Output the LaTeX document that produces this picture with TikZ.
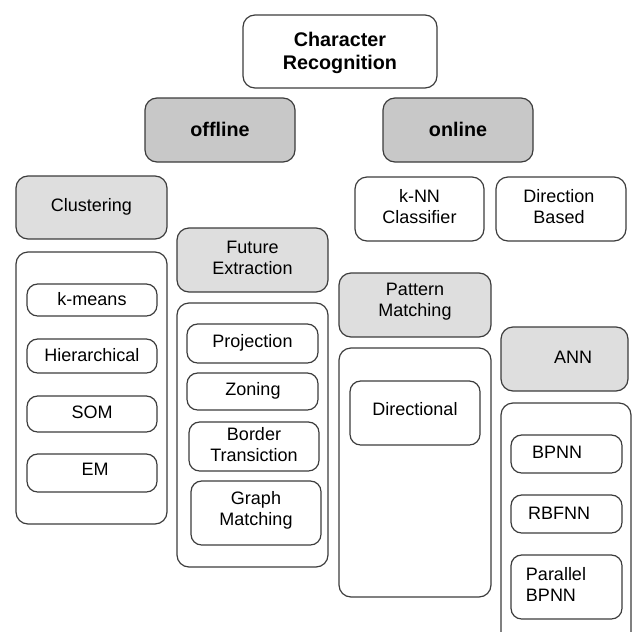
\documentclass[tikz,border=0pt]{standalone}
\usepackage{fontspec}
\setmainfont{Liberation Sans}
\usepackage{tikz}
\definecolor{darkgrey}{RGB}{200,200,200}
\definecolor{lightgrey}{RGB}{222,222,222}
\definecolor{edge}{RGB}{60,60,60}

\begin{document}
\begin{tikzpicture}[x=0.75pt,y=-0.75pt]
\tikzstyle{every node}+=[inner sep=0pt,align=center,font=\fontsize{13.5}{15.75}\selectfont]
\tikzstyle{frame}=[draw=edge,line width=0.9pt,rounded corners=9pt]
\tikzstyle{inner}=[draw=edge,line width=0.9pt,rounded corners=8pt]
\tikzstyle{head}=[font=\fontsize{14.8}{17.2}\selectfont\bfseries]
\clip (0,0) rectangle (632,632);
% top levels
\draw [frame] (243,15) rectangle (437,88);
\node [head] (charrec) at (340,53) {Character\\Recognition};
\draw [frame,fill=darkgrey] (145,98) rectangle (295,162);
\node [head] (offline) at (220,129) {offline};
\draw [frame,fill=darkgrey] (383,98) rectangle (533,162);
\node [head] (online) at (458,129) {online};
% offline side
\draw [frame,fill=lightgrey] (16,176) rectangle (167,239);
\node (clustering) at (91.5,206.5) {Clustering};
\draw [frame] (16,252) rectangle (167,524);
\draw [inner] (27,284) rectangle (157,316);
\node (kmeans) at (92,299) {k-means};
\draw [inner] (27,339) rectangle (157,373);
\node (hier) at (92,355) {Hierarchical};
\draw [inner] (27,396) rectangle (157,432);
\node (som) at (92,412) {SOM};
\draw [inner] (27,454) rectangle (157,492);
\node (em) at (95,469) {EM};
\draw [frame,fill=lightgrey] (177,228) rectangle (328,292);
\node (future) at (252.5,257.5) {Future\\Extraction};
\draw [frame] (177,303) rectangle (328,567);
\draw [inner] (187,324) rectangle (318,363);
\node (projection) at (252.5,343) {Projection};
\draw [inner] (187,373) rectangle (318,410);
\node (zoning) at (253,390.5) {Zoning};
\draw [inner] (189,422) rectangle (319,471);
\node (border) at (254,444.5) {Border\\Transiction};
\draw [inner] (191,481) rectangle (321,545);
\node (graph) at (256,510) {Graph\\Matching};
% online side
\draw [frame] (355,177) rectangle (484,241);
\node (knn) at (419.5,207) {k-NN\\Classifier};
\draw [frame] (496,177) rectangle (626,241);
\node (dirbased) at (559,207) {Direction\\Based};
\draw [frame,fill=lightgrey] (339,273) rectangle (491,337);
\node (pattern) at (415,302) {Pattern\\Matching};
\draw [frame] (339,348) rectangle (491,597);
\draw [inner] (350,381) rectangle (480,445);
\node (directional) at (415,409) {Directional};
\draw [frame,fill=lightgrey] (501,327) rectangle (628,391);
\node (ann) at (573,357) {ANN};
\draw [frame] (501,403) rectangle (631,650);
\draw [inner] (511,435) rectangle (622,473);
\node (bpnn) at (557,452) {BPNN};
\draw [inner] (511,495) rectangle (622,533);
\node (rbfnn) at (559,513) {RBFNN};
\draw [inner] (511,555) rectangle (622,619);
\node [align=left] (parbpnn) at (556,584) {Parallel\\BPNN};
\end{tikzpicture}
\end{document}
